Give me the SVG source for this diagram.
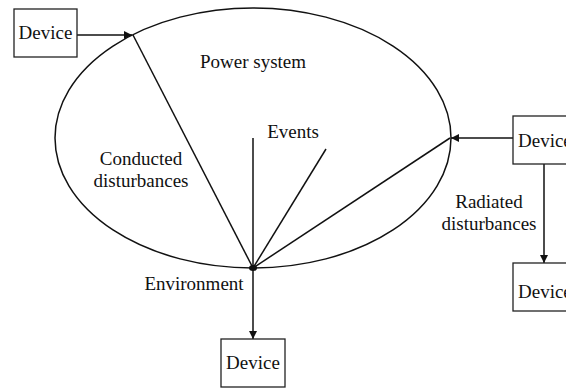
<svg xmlns="http://www.w3.org/2000/svg" width="566" height="389" viewBox="0 0 566 389">
<defs>
<marker id="arr" viewBox="0 0 10 10" refX="10" refY="5" markerWidth="8" markerHeight="8" markerUnits="userSpaceOnUse" orient="auto">
<path d="M0,0 L10,5 L0,10 Z" fill="#111"/>
</marker>
</defs>
<style>
text{font-family:"Liberation Serif","Times New Roman",serif;font-size:19px;fill:#111;}
.box{fill:#fff;stroke:#222;stroke-width:1.3;}
.ln{stroke:#111;stroke-width:1.5;fill:none;}
</style>
<rect width="566" height="389" fill="#fff"/>
<g id="power-system">
<ellipse cx="253" cy="138" rx="198" ry="130" class="ln"/>
<text x="253" y="68" text-anchor="middle">Power system</text>
</g>
<g id="connectors">
<line x1="77" y1="35" x2="132" y2="35" class="ln" marker-end="url(#arr)"/>
<line x1="513" y1="138" x2="451" y2="138" class="ln" marker-end="url(#arr)"/>
<line x1="544" y1="164" x2="544" y2="263" class="ln" marker-end="url(#arr)"/>
<line x1="253" y1="268" x2="253" y2="339" class="ln" marker-end="url(#arr)"/>
<line x1="253" y1="268" x2="133" y2="35" class="ln"/>
<line x1="253" y1="268" x2="253" y2="138" class="ln"/>
<line x1="253" y1="268" x2="326" y2="149" class="ln"/>
<line x1="253" y1="268" x2="450" y2="138" class="ln"/>
<ellipse cx="253" cy="268" rx="4" ry="3" fill="#111"/>
</g>
<g id="device-top-left">
<rect x="14" y="9" width="63" height="48" class="box"/>
<text x="45.5" y="39" text-anchor="middle">Device</text>
</g>
<g id="device-right">
<rect x="513" y="116" width="60" height="48" class="box"/>
<text x="518" y="147">Device</text>
</g>
<g id="device-bottom-right">
<rect x="513" y="263" width="60" height="48" class="box"/>
<text x="518" y="298">Device</text>
</g>
<g id="device-bottom">
<rect x="221" y="339" width="64" height="48" class="box"/>
<text x="253" y="369" text-anchor="middle">Device</text>
</g>
<g id="labels">
<text x="141" y="165" text-anchor="middle">Conducted</text>
<text x="141" y="187" text-anchor="middle">disturbances</text>
<text x="293" y="138" text-anchor="middle">Events</text>
<text x="194" y="290" text-anchor="middle">Environment</text>
<text x="489" y="208" text-anchor="middle">Radiated</text>
<text x="489" y="230" text-anchor="middle">disturbances</text>
</g>
</svg>
